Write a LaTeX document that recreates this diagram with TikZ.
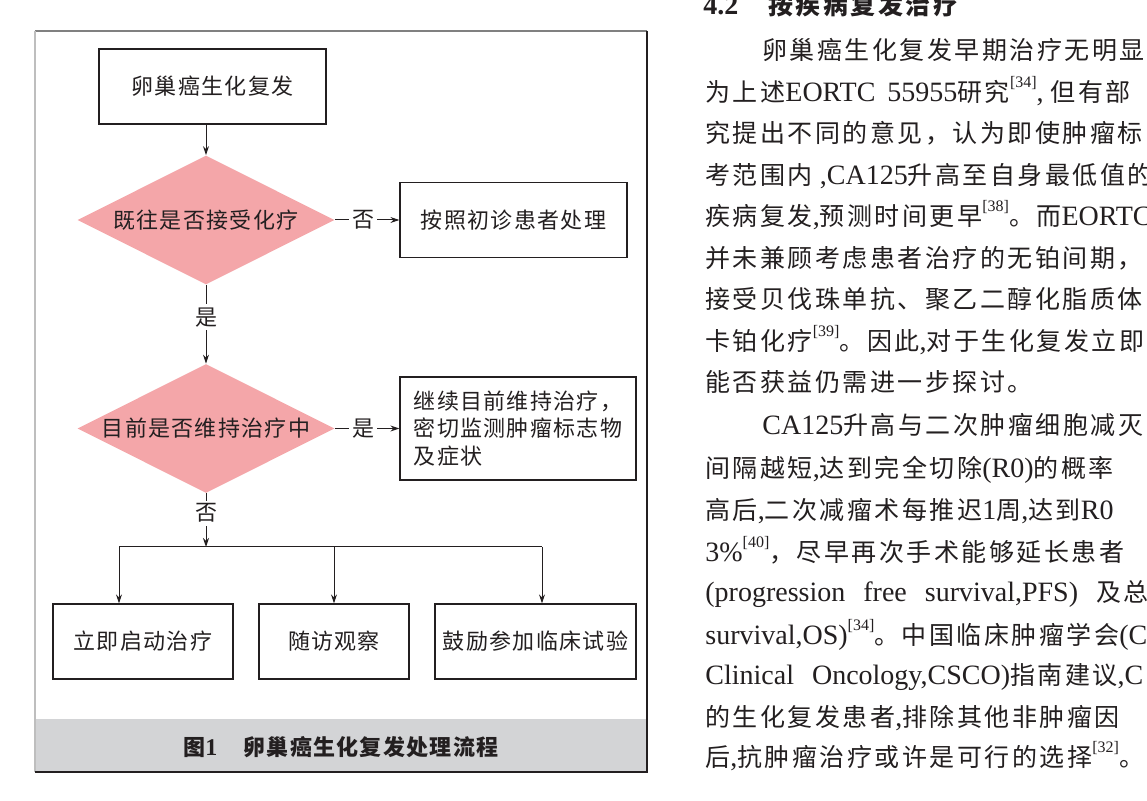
\documentclass[tikz,border=0pt]{standalone}
\usepackage{fontspec}
\setmainfont{Liberation Serif}
\newfontfamily\zhfig{Noto Sans CJK SC}[LetterSpace=6]
\newfontfamily\zhtext{Noto Sans CJK SC}[LetterSpace=10]
\usetikzlibrary{shapes.geometric,arrows.meta}
\definecolor{inkblack}{HTML}{231F20}
\definecolor{flowpink}{HTML}{F4A6A9}
\definecolor{capgray}{HTML}{D3D4D6}
\definecolor{frameside}{HTML}{BEBEBE}
\definecolor{frametop}{HTML}{808080}
\newcommand{\zt}[1]{{\fontsize{12.5pt}{15pt}\zhtext #1}}
\newcommand{\refmark}[1]{\raisebox{0.5em}{\fontsize{8pt}{8pt}\selectfont[#1]}}

\begin{document}
\begin{tikzpicture}[x=0.5pt,y=-0.5pt,
    every node/.style={text=inkblack},
    box/.style={draw=inkblack,line width=0.6pt,rectangle,inner sep=0pt,
      minimum height=37.5pt,font=\fontsize{11pt}{13.75pt}\zhfig},
    decision/.style={diamond,fill=flowpink,inner sep=0pt,aspect=1.98,
      minimum width=128.5pt,minimum height=64.5pt,font=\fontsize{11pt}{13.75pt}\zhfig},
    arr/.style={draw=inkblack,line width=0.5pt,-{Stealth[length=4.5pt,width=3pt]}},
    wire/.style={draw=inkblack,line width=0.5pt},
    lbl/.style={fill=white,inner sep=1.5pt,font=\fontsize{11pt}{13pt}\zhfig},
    txt/.style={anchor=base west,inner sep=0pt,font=\fontsize{14pt}{15pt}\selectfont}]
    \useasboundingbox (0,0) rectangle (1147,801);
    \clip (0,0) rectangle (1147,801);
    \fill[white] (0,0) rectangle (1147,801);

    % figure frame and caption band
    \fill[capgray] (35,719) rectangle (647,772);
    \draw[frametop,line width=0.6pt] (35,31) -- (647,31);
    \draw[frameside,line width=1.2pt] (35,31) -- (35,772);
    \draw[inkblack,line width=0.6pt] (647,31) -- (647,772) -- (35,772);
    \node[inner sep=0pt] (cap) at (341,747)
      {{\fontsize{11pt}{13pt}\zhfig\bfseries 图}{\fontsize{12pt}{13pt}\selectfont\bfseries 1}\hspace{13pt}{\fontsize{11pt}{13pt}\zhfig\bfseries 卵巢癌生化复发处理流程}};

    % flow chart
    \node[box,minimum width=113.5pt] (start) at (212.5,86.5) {卵巢癌生化复发};
    \node[decision] (prior) at (206,220) {既往是否接受化疗};
    \node[box,minimum width=113.5pt] (naive) at (513.5,220) {按照初诊患者处理};
    \node[decision] (maint) at (206,428.5) {目前是否维持治疗中};
    \node[box,minimum width=118pt,minimum height=51.5pt,align=left] (keep) at (518,428.5)
      {继续目前维持治疗，\\密切监测肿瘤标志物\\及症状};
    \node[box,minimum width=90pt] (treat) at (143,641.5) {立即启动治疗};
    \node[box,minimum width=75pt] (follow) at (334,641.5) {随访观察};
    \node[box,minimum width=100.5pt] (trial) at (535.5,641.5) {鼓励参加临床试验};

    \coordinate (split) at (206,547);
    \coordinate (brL) at (119,547);
    \coordinate (brR) at (542,547);

    \draw[arr] (start.south -| prior.north) -- (prior.north);
    \draw[arr] (prior.east) -- node[lbl,pos=0.44]{否} (naive.west);
    \draw[arr] (prior.south) -- node[lbl,pos=0.41]{是} (maint.north);
    \draw[arr] (maint.east) -- node[lbl,pos=0.44]{是} (keep.west);
    \draw[arr] (maint.south) -- node[lbl,pos=0.37]{否} (split);
    \draw[wire] (brL) -- (brR);
    \draw[arr] (brL) -- (brL |- treat.north);
    \draw[arr] (follow.north |- brL) -- (follow.north);
    \draw[arr] (brR) -- (brR |- trial.north);

    % body text column
    \node[txt] (sec) at (703,14.5) {\bfseries 4.2\hspace{15pt}{\fontsize{12.5pt}{15pt}\zhtext\bfseries 按疾病复发治疗}};
    \node[txt] (t01) at (762,59.5) {\zt{卵巢癌生化复发早期治疗无明显}};
    \node[txt] (t02) at (705,101.5) {\zt{为上述}EORTC\hspace{6pt}55955\zt{研究}\refmark{34}, \zt{但有部}};
    \node[txt] (t03) at (705,142.5) {\zt{究提出不同的意见，认为即使肿瘤标}};
    \node[txt] (t04) at (705,184.5) {\zt{考范围内} ,CA125\zt{升高至自身最低值的}};
    \node[txt] (t05) at (705,225.5) {\zt{疾病复发},\zt{预测时间更早}\refmark{38}\zt{。而}EORTC};
    \node[txt] (t06) at (705,267.5) {\zt{并未兼顾考虑患者治疗的无铂间期，}};
    \node[txt] (t07) at (705,308.5) {\zt{接受贝伐珠单抗、聚乙二醇化脂质体}};
    \node[txt] (t08) at (705,350.5) {\zt{卡铂化疗}\refmark{39}\zt{。因此},\zt{对于生化复发立即}};
    \node[txt] (t09) at (705,391.5) {\zt{能否获益仍需进一步探讨。}};
    \node[txt] (t10) at (762,434.5) {CA125\zt{升高与二次肿瘤细胞减灭}};
    \node[txt] (t11) at (705,477.5) {\zt{间隔越短},\zt{达到完全切除}(R0)\zt{的概率}};
    \node[txt] (t12) at (705,519.5) {\zt{高后},\zt{二次减瘤术每推迟}1\zt{周},\zt{达到}R0};
    \node[txt] (t13) at (705,561.5) {3\%\refmark{40}\zt{，尽早再次手术能够延长患者}};
    \node[txt] (t14) at (705,601.5) {(progression\hspace{9pt}free\hspace{9pt}survival,PFS)\hspace{9pt}\zt{及总}};
    \node[txt] (t15) at (705,644.5) {survival,OS)\refmark{34}\zt{。中国临床肿瘤学会}(Chin};
    \node[txt] (t16) at (705,684.5) {Clinical\hspace{9pt}Oncology,CSCO)\zt{指南建议},C};
    \node[txt] (t17) at (705,726.5) {\zt{的生化复发患者},\zt{排除其他非肿瘤因}};
    \node[txt] (t18) at (705,766.5) {\zt{后},\zt{抗肿瘤治疗或许是可行的选择}\refmark{32}\zt{。}};
\end{tikzpicture}
\end{document}
